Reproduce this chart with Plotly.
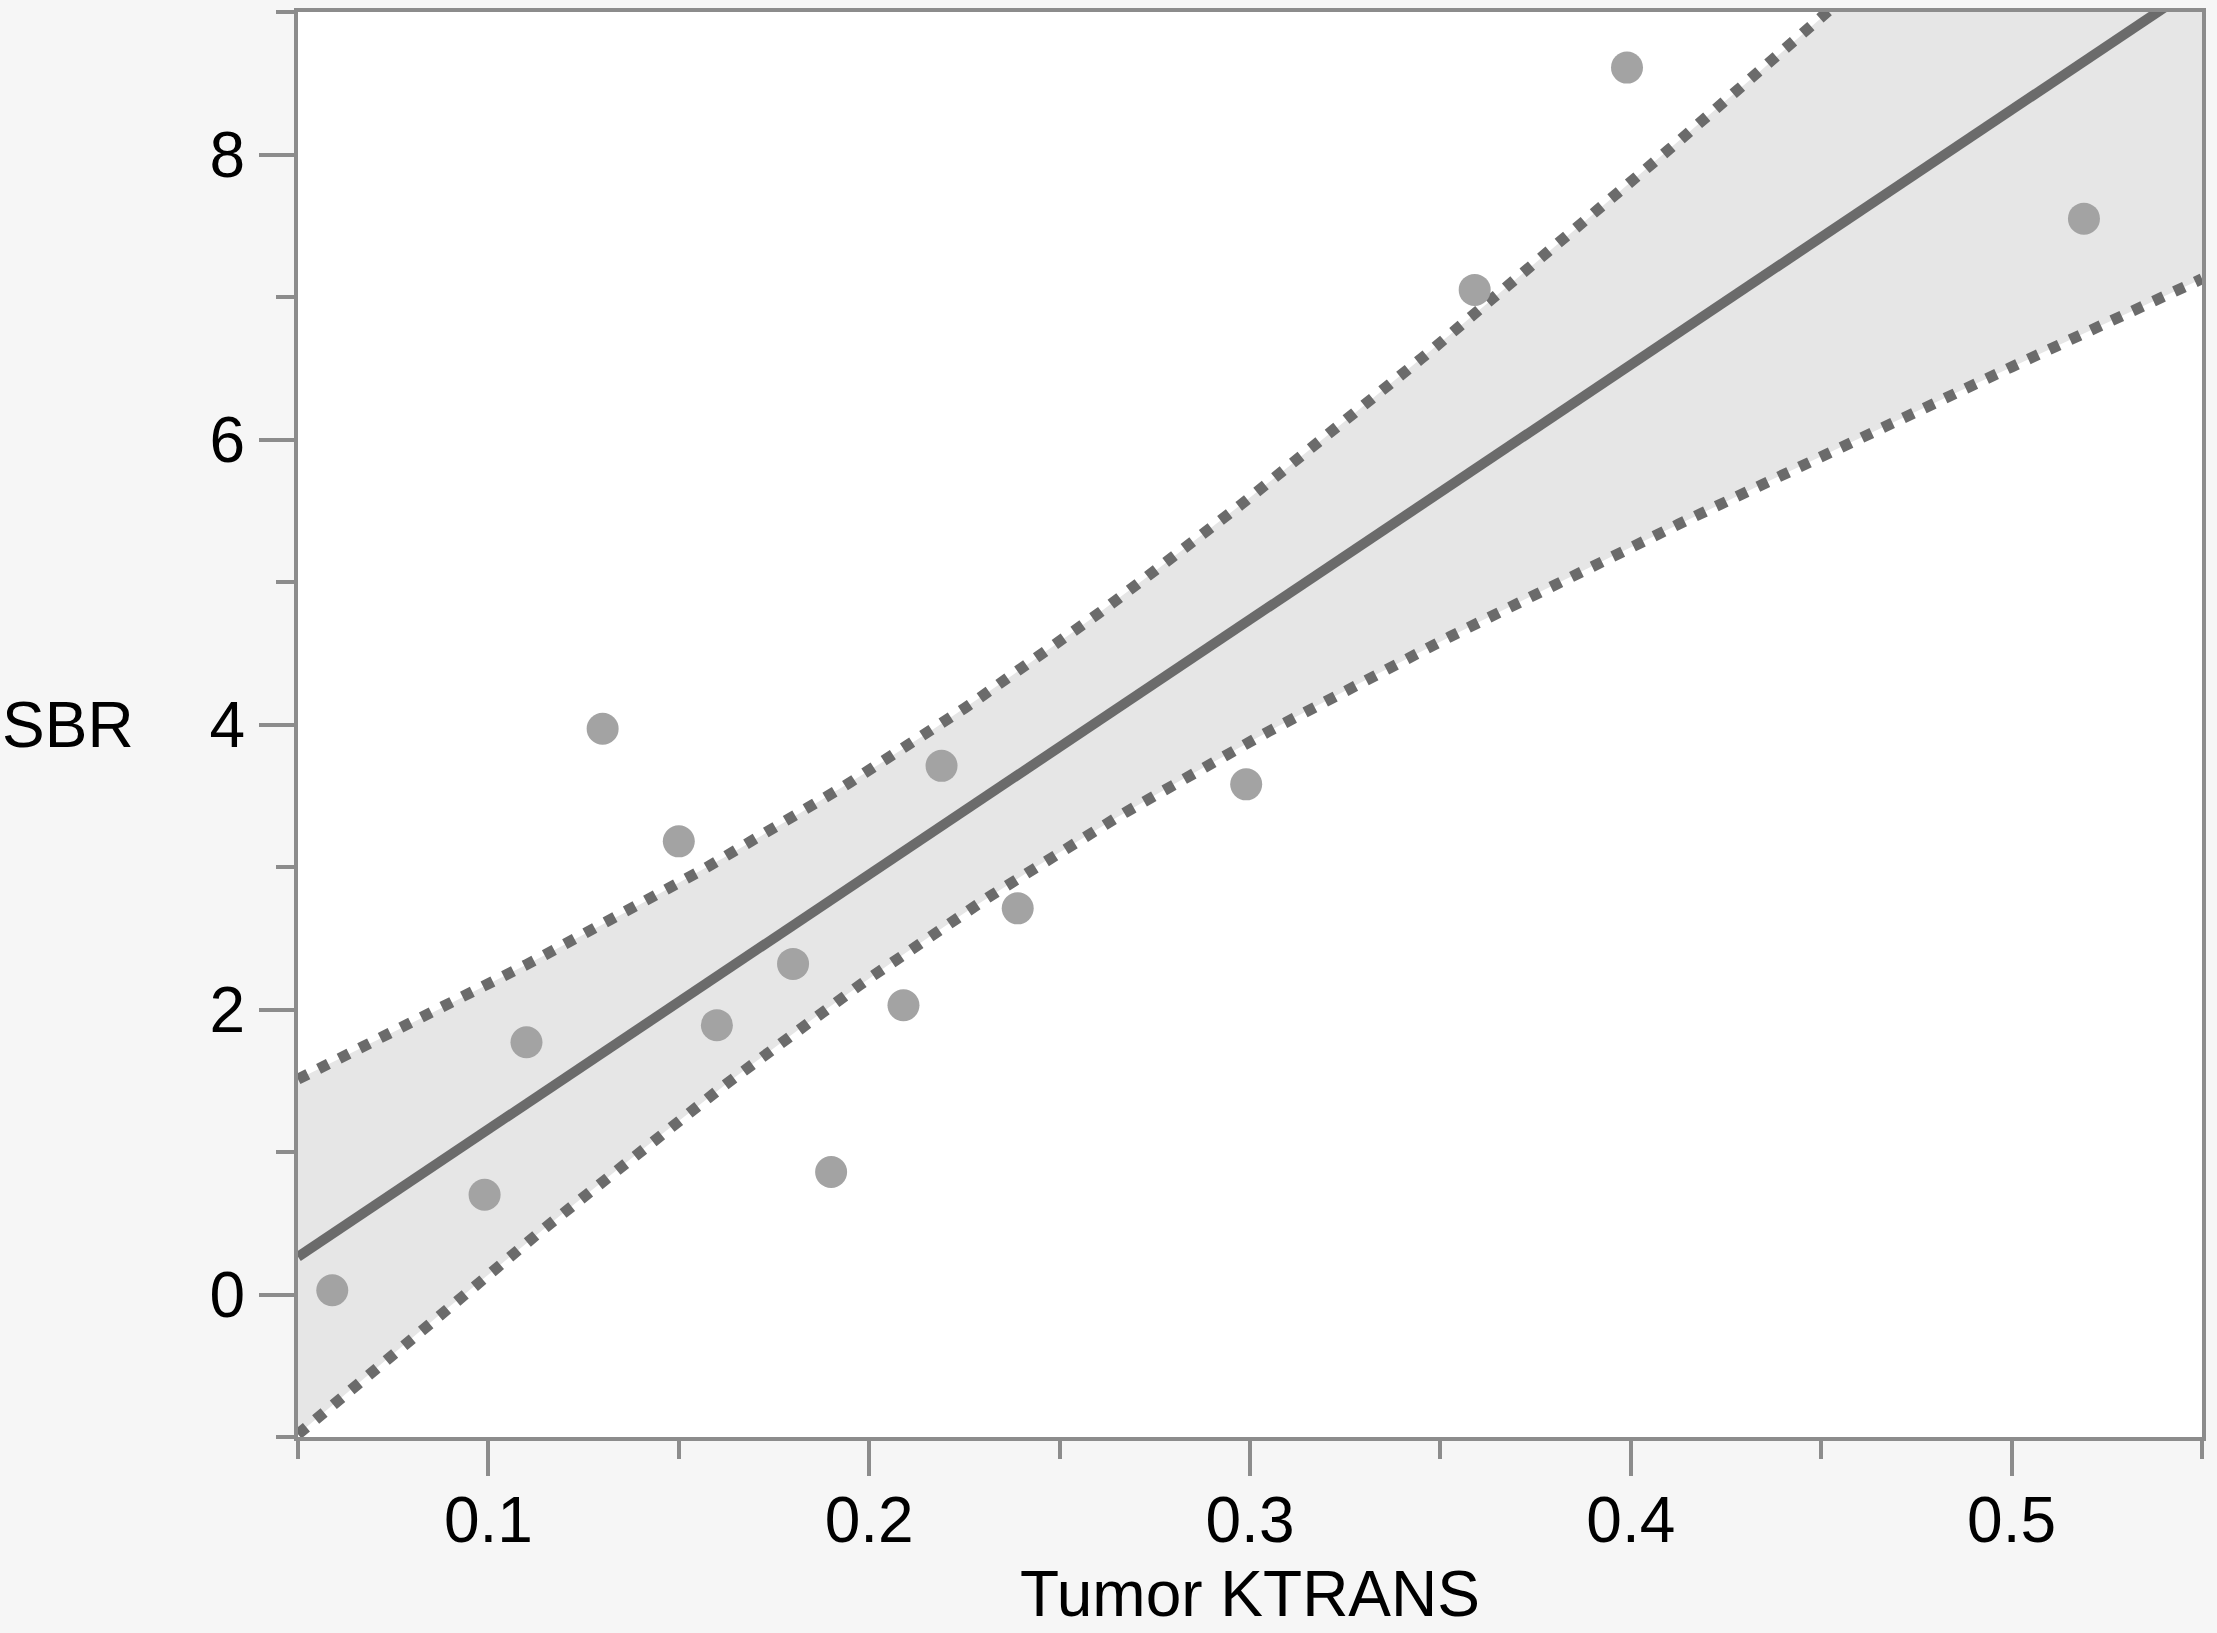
import numpy as np
import plotly.graph_objects as go

# Data
ktrans = [0.059, 0.099, 0.110, 0.130, 0.150, 0.160, 0.180, 0.190, 0.209, 0.219, 0.239, 0.299, 0.359, 0.399, 0.519]
sbr = [0.03, 0.70, 1.77, 3.97, 3.18, 1.89, 2.32, 0.86, 2.03, 3.71, 2.71, 3.58, 7.05, 8.61, 7.55]

x_ticks = [0.1, 0.2, 0.3, 0.4, 0.5]
x_tick_labels = ["0.1", "0.2", "0.3", "0.4", "0.5"]
y_ticks = [0, 2, 4, 6, 8]
y_tick_labels = ["0", "2", "4", "6", "8"]
x_range = [0.05, 0.55]
y_range = [-1, 9]
T_CRIT = 2.1604  # t(0.975, df=13)

# Linear fit with 95% confidence band of the mean
xa = np.array(ktrans)
ya = np.array(sbr)
n = len(xa)
slope, intercept = np.polyfit(xa, ya, 1)
resid = ya - (slope * xa + intercept)
s = np.sqrt(np.sum(resid ** 2) / (n - 2))
sxx = np.sum((xa - xa.mean()) ** 2)
xg = np.linspace(x_range[0], x_range[1], 201)
yfit = slope * xg + intercept
half = T_CRIT * s * np.sqrt(1.0 / n + (xg - xa.mean()) ** 2 / sxx)
upper = yfit + half
lower = yfit - half

LINE_C = "#6b6b6b"
AXIS_C = "#8c8c8c"
FONT = "Liberation Sans, Arial, Helvetica, sans-serif"
FS = 64

fig = go.Figure()
fig.add_trace(go.Scatter(x=xg, y=lower, mode="lines", line=dict(width=0), showlegend=False, hoverinfo="skip"))
fig.add_trace(go.Scatter(x=xg, y=upper, mode="lines", line=dict(width=0), fill="tonexty",
                         fillcolor="#e6e6e6", showlegend=False, hoverinfo="skip"))
fig.add_trace(go.Scatter(x=xg, y=upper, mode="lines", line=dict(color=LINE_C, width=11, dash="11px,12px"),
                         showlegend=False))
fig.add_trace(go.Scatter(x=xg, y=lower, mode="lines", line=dict(color=LINE_C, width=11, dash="11px,12px"),
                         showlegend=False))
fig.add_trace(go.Scatter(x=xg, y=yfit, mode="lines", line=dict(color=LINE_C, width=10), showlegend=False))
fig.add_trace(go.Scatter(x=ktrans, y=sbr, mode="markers",
                         marker=dict(size=32, color="#a3a3a3", line=dict(width=0)), showlegend=False))

fig.update_layout(
    width=2217, height=1633,
    margin=dict(l=298, r=15, t=8, b=196),
    paper_bgcolor="#f6f6f6", plot_bgcolor="white",
    font=dict(family=FONT, size=FS, color="black"),
    showlegend=False,
)
fig.update_xaxes(
    range=x_range, tickvals=x_ticks, ticktext=x_tick_labels,
    showgrid=False, zeroline=False, showline=True, linecolor=AXIS_C, linewidth=4, mirror=True,
    ticks="outside", ticklen=35, tickwidth=4, tickcolor=AXIS_C,
    minor=dict(ticks="outside", ticklen=18, tickwidth=4, tickcolor=AXIS_C, dtick=0.05, tick0=0, showgrid=False),
    title=dict(text="Tumor KTRANS", font=dict(size=FS), standoff=17),
    ticklabelstandoff=-11,
)
fig.update_yaxes(
    range=y_range, tickvals=y_ticks, ticktext=y_tick_labels,
    showgrid=False, zeroline=False, showline=True, linecolor=AXIS_C, linewidth=4, mirror=True,
    ticks="outside", ticklen=35, tickwidth=4, tickcolor=AXIS_C,
    minor=dict(ticks="outside", ticklen=18, tickwidth=4, tickcolor=AXIS_C, dtick=1, tick0=0, showgrid=False),
    ticklabelstandoff=1,
)
fig.add_annotation(text="SBR", xref="paper", yref="paper", x=(0 - 298) / (2202 - 298), y=0.5,
                   xanchor="left", yanchor="middle", showarrow=False, font=dict(size=FS, family=FONT))

fig.write_html("out.html", config={"displayModeBar": False},
               post_script="document.body.style.margin='0';document.body.style.overflow='hidden';")
